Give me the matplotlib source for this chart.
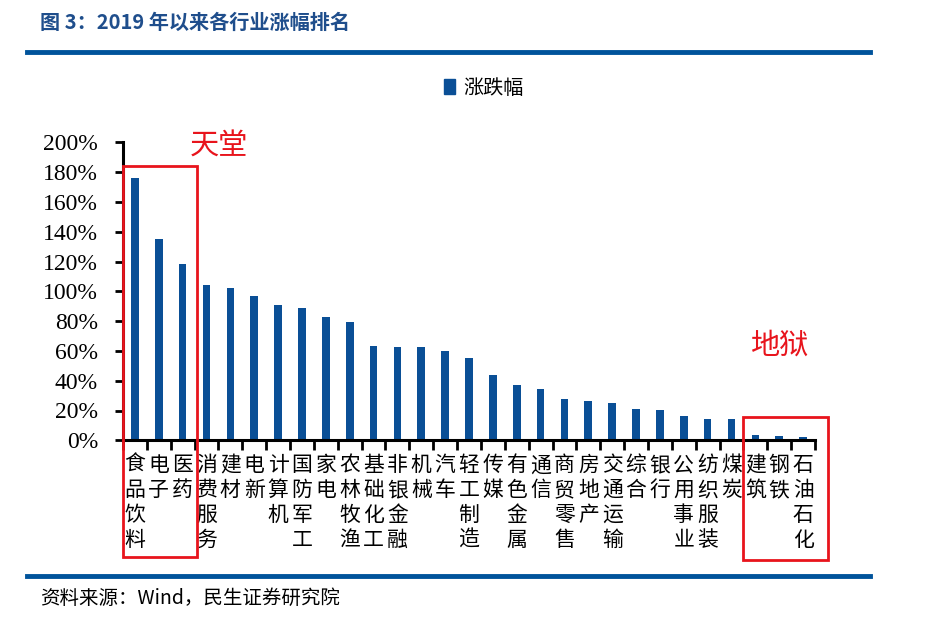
import matplotlib
matplotlib.use("Agg")
import matplotlib.pyplot as plt
import matplotlib.transforms as mtransforms
from matplotlib.patches import Rectangle, Patch
from matplotlib.lines import Line2D
import numpy as np

plt.rcParams['font.family'] = ['Noto Sans CJK SC', 'DejaVu Sans']

# industries, ranked by change since start of 2019
industries = ['食品饮料', '电子', '医药', '消费服务', '建材', '电新', '计算机', '国防军工',
              '家电', '农林牧渔', '基础化工', '非银金融', '机械', '汽车', '轻工制造', '传媒',
              '有色金属', '通信', '商贸零售', '房地产', '交通运输', '综合', '银行', '公用事业',
              '纺织服装', '煤炭', '建筑', '钢铁', '石油石化']
change = [1.76, 1.35, 1.18, 1.04, 1.02, 0.97, 0.91, 0.89, 0.825, 0.795, 0.635, 0.628,
          0.627, 0.60, 0.552, 0.438, 0.369, 0.347, 0.277, 0.264, 0.253, 0.211, 0.203,
          0.163, 0.145, 0.143, 0.033, 0.026, 0.024]

title = '图 3：2019 年以来各行业涨幅排名'
source = '资料来源：Wind，民生证券研究院'
bar_color = '#0A4F96'
line_color = '#00539B'
red = '#E8141C'

W, H = 930, 618
fig = plt.figure(figsize=(W / 100, H / 100), dpi=100)
ax = fig.add_axes([123 / W, 1 - 440.3 / H, (815 - 123) / W, (440.3 - 142.3) / H])

x = np.arange(len(industries))
ax.bar(x, change, width=0.32, color=bar_color, label='涨跌幅', zorder=2)

ax.set_xlim(-0.5, len(industries) - 0.5)
ax.set_ylim(0, 2.0)
yt = np.arange(0, 2.01, 0.2)
ax.set_yticks(yt)
ax.set_yticklabels(['%d%%' % round(v * 100) for v in yt], family='Liberation Serif', fontsize=17)
ax.set_xticks(x)
ax.set_xticklabels(['\n'.join(s) for s in industries], fontsize=15, linespacing=1.17,
                   va='top')
ax.set_xticks(np.arange(-0.5, len(industries), 1.0), minor=True)
ax.tick_params(axis='x', which='major', length=0, pad=10)
ax.tick_params(axis='x', which='minor', length=7, width=2, direction='out')
ax.tick_params(axis='y', length=6, width=2, direction='out', pad=12)
for s in ['top', 'right']:
    ax.spines[s].set_visible(False)
for s in ['left', 'bottom']:
    ax.spines[s].set_linewidth(2.2)
    ax.spines[s].set_color('black')

# legend
fig.legend(handles=[Patch(color=bar_color, label='涨跌幅')], loc='center',
           bbox_to_anchor=(484 / W, 1 - 88 / H), frameon=False, fontsize=14.5,
           handlelength=0.55, handleheight=0.75, handletextpad=0.4)

# red boxes and labels (x in data units, y in figure units)
trans = mtransforms.blended_transform_factory(ax.transData, fig.transFigure)
boxes = [(-0.5, 2.6, 1 - 557 / H, 1 - 166 / H), (25.48, 29.05, 1 - 560 / H, 1 - 417 / H)]
for x0, x1, y0, y1 in boxes:
    ax.add_patch(Rectangle((x0, y0), x1 - x0, y1 - y0, transform=trans, fill=False,
                           edgecolor=red, linewidth=2, clip_on=False, zorder=5))
ax.text(3.52, 1 - 147 / H, '天堂', transform=trans, color=red, fontsize=21,
        ha='center', va='center')
ax.text(26.99, 1 - 346 / H, '地狱', transform=trans, color=red, fontsize=21,
        ha='center', va='center')

# header / footer
fig.text(40 / W, 1 - 22 / H, title, color='#1F4E8C', fontsize=14.5, fontweight='bold',
         ha='left', va='center')
fig.add_artist(Line2D([27 / W, 870 / W], [1 - 52 / H] * 2, color=line_color, linewidth=3.5))
fig.add_artist(Line2D([27 / W, 870 / W], [1 - 576 / H] * 2, color=line_color, linewidth=3.5))
fig.text(40 / W, 1 - 598 / H, source, color='black', fontsize=14, ha='left', va='center')

fig.savefig('out.png', dpi=100)
